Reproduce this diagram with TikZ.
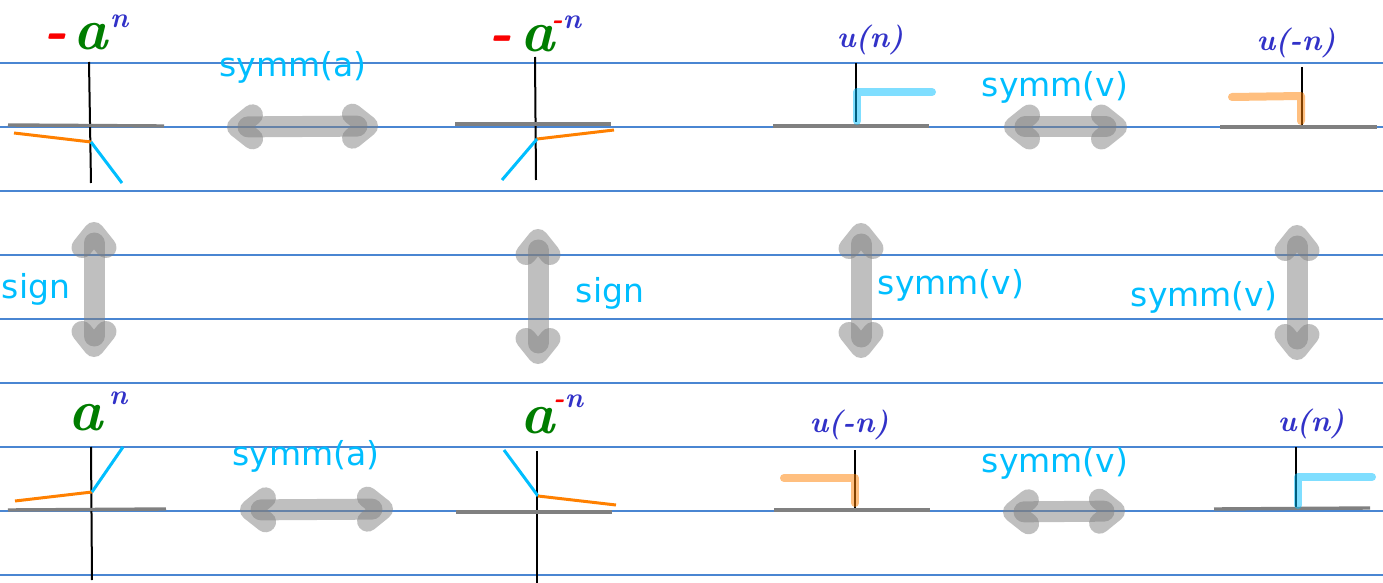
\documentclass[tikz,border=0pt]{standalone}
\usepackage{fontspec}
\newfontfamily\symmfont{DejaVu Sans}
\usepackage{tikz}
\usetikzlibrary{arrows.meta,positioning}
\definecolor{rulecol}{RGB}{74,134,210}
\definecolor{axisgray}{RGB}{128,128,128}
\definecolor{sigorange}{RGB}{255,128,0}
\definecolor{sigcyan}{RGB}{0,190,255}
\definecolor{minred}{RGB}{250,0,0}
\definecolor{agreen}{RGB}{0,125,0}
\definecolor{nblue}{RGB}{50,50,200}
\tikzset{
  ruleline/.style={rulecol, line width=0.6pt},
  vaxis/.style={black, line width=1pt},
  haxis/.style={axisgray, line width=1.7pt},
  ramp/.style={line width=1.5pt},
  stepline/.style={line width=4pt, line cap=round, line join=round, draw opacity=0.5},
  op/.style={axisgray, line width=10.5pt, line cap=round, draw opacity=0.5,
    {Straight Barb[round,length=7.5pt,width=12pt]}-{Straight Barb[round,length=7.5pt,width=12pt]}},
  oplbl/.style={text=sigcyan, font=\symmfont\fontsize{16.5}{18}\selectfont, inner sep=0pt},
  alabel/.style={font=\fontsize{29}{29}\selectfont\bfseries\itshape, inner sep=0pt, anchor=base},
  ulabel/.style={text=nblue, font=\fontsize{15}{15}\selectfont\bfseries\itshape, inner sep=0pt},
}

\begin{document}
\begin{tikzpicture}[x=0.5pt, y=-0.5pt]
  \useasboundingbox (0,0) rectangle (1383,583);
  % ruled paper
  \foreach \ry in {63,127,...,575}
    \draw[ruleline] (0,\ry) -- (1383,\ry);

  % -a^n
  \draw[vaxis] (89,62) -- (91,183);
  \draw[haxis] (8,125) -- (164,126);
  \draw[ramp, sigorange] (14,133) -- (91,142);
  \draw[ramp, sigcyan] (91,142) -- (122,183);
  \node[alabel] (lblA) at (86,50) {\textcolor{minred}{-}\kern3pt\textcolor{agreen}{a}\kern1pt\raisebox{11pt}{\fontsize{14}{14}\selectfont\textcolor{nblue}{n}}};

  % -a^-n
  \draw[vaxis] (535,57) -- (536,180);
  \draw[haxis] (455,124) -- (611,124);
  \draw[ramp, sigorange] (537,139) -- (614,130);
  \draw[ramp, sigcyan] (537,139) -- (502,180);
  \node[alabel] (lblB) at (535,52) {\textcolor{minred}{-}\kern4pt\textcolor{agreen}{a}\kern-2pt\raisebox{11.5pt}{\fontsize{14}{14}\selectfont\textcolor{minred}{-}\textcolor{nblue}{n}}};

  % u(n)
  \draw[vaxis] (856,63) -- (856,122);
  \draw[haxis] (773,126) -- (929,126);
  \draw[stepline, sigcyan] (857,121) -- (857,92) -- (932,92);
  \node[ulabel] (lblC) at (870,40) {u(n)};

  % u(-n)
  \draw[vaxis] (1302,67) -- (1302,125);
  \draw[haxis] (1220,127) -- (1377,127);
  \draw[stepline, sigorange] (1232,97) -- (1301,96) -- (1301,121);
  \node[ulabel] (lblD) at (1296,43) {u(-n)};

  % a^n
  \draw[vaxis] (91,447) -- (92,580);
  \draw[haxis] (8,510) -- (166,509);
  \draw[ramp, sigorange] (15,501) -- (92,492);
  \draw[ramp, sigcyan] (92,492) -- (123,447);
  \node[alabel] (lblE) at (98,430) {\textcolor{agreen}{a}\kern3pt\raisebox{13pt}{\fontsize{14}{14}\selectfont\textcolor{nblue}{n}}};

  % a^-n
  \draw[vaxis] (537,451) -- (537,583);
  \draw[haxis] (456,512) -- (612,512);
  \draw[ramp, sigcyan] (504,450) -- (538,496);
  \draw[ramp, sigorange] (538,496) -- (616,505);
  \node[alabel] (lblF) at (552,433) {\textcolor{agreen}{a}\kern-1pt\raisebox{13pt}{\fontsize{14}{14}\selectfont\textcolor{minred}{-}\textcolor{nblue}{n}}};

  % u(-n)
  \draw[vaxis] (855,450) -- (855,508);
  \draw[haxis] (774,510) -- (930,510);
  \draw[stepline, sigorange] (784,478) -- (855,478) -- (855,503);
  \node[ulabel] (lblG) at (849,425) {u(-n)};

  % u(n)
  \draw[vaxis] (1296,447) -- (1296,508);
  \draw[haxis] (1214,509) -- (1370,508);
  \draw[stepline, sigcyan] (1298,505) -- (1298,477) -- (1372,477);
  \node[ulabel] (lblH) at (1311,424) {u(n)};

  % arrow ends
  \coordinate (sa1) at (227,127);  \coordinate (sa2) at (378,126);
  \coordinate (sa3) at (240,510);  \coordinate (sa4) at (393,509);
  \coordinate (sv1) at (1004,127); \coordinate (sv2) at (1127,127);
  \coordinate (sv3) at (1003,512); \coordinate (sv4) at (1125,511);
  \coordinate (sg1) at (94,222);   \coordinate (sg2) at (94,357);
  \coordinate (sg3) at (538,229);  \coordinate (sg4) at (538,364);
  \coordinate (sv5) at (861,223);  \coordinate (sv6) at (861,358);
  \coordinate (sv7) at (1297,225); \coordinate (sv8) at (1297,360);

  % operations
  \draw[op] (sa1) -- (sa2);
  \draw[op] (sa3) -- (sa4);
  \draw[op] (sv1) -- (sv2);
  \draw[op] (sv3) -- (sv4);
  \draw[op] (sg1) -- (sg2);
  \draw[op] (sg3) -- (sg4);
  \draw[op] (sv5) -- (sv6);
  \draw[op] (sv7) -- (sv8);

  \node[oplbl] (symmA1) at (293,67) {symm(a)};
  \node[oplbl] (symmA2) at (306,456) {symm(a)};
  \node[oplbl] (symmV1) at (1055,87) {symm(v)};
  \node[oplbl] (symmV2) at (1055,463) {symm(v)};
  \node[oplbl] (sign1) at (36,289) {sign};
  \node[oplbl] (sign2) at (610,293) {sign};
  \node[oplbl] (symmV3) at (951,285) {symm(v)};
  \node[oplbl] (symmV4) at (1204,297) {symm(v)};
\end{tikzpicture}
\end{document}
